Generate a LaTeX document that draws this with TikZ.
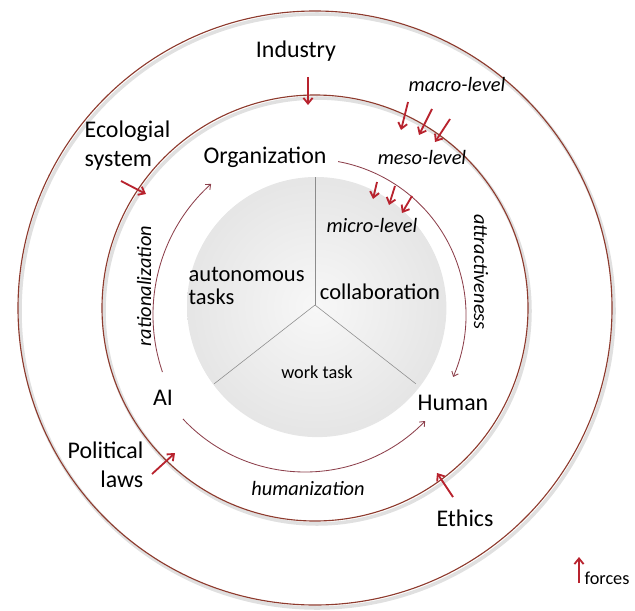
\documentclass[tikz,border=0pt]{standalone}
\usepackage{fontspec}
\setmainfont{Carlito}
\usetikzlibrary{arrows.meta,shadows}
\tikzset{
	>={Straight Barb[length=4pt,width=6.5pt]},
}
\definecolor{ringred}{HTML}{8E3B2E}
\definecolor{forcered}{HTML}{B8232E}
\definecolor{flowred}{HTML}{8C3F4B}

\begin{document}
\begin{tikzpicture}[x=0.025cm, y=0.025cm,
	label/.style = {font=\fontsize{17}{20.5}\selectfont, inner sep=1pt},
	task/.style = {font=\fontsize{16}{16.5}\selectfont, inner sep=1pt},
	level/.style = {font=\fontsize{14.5}{17}\selectfont\itshape, inner sep=1pt},
	ring/.style = {draw=ringred, line width=0.8pt},
	ringshadow/.style = {draw=black!12, line width=2.5pt},
	spoke/.style = {draw=black!45, line width=0.4pt},
	force/.style = {draw=forcered, line width=1.3pt, ->},
	flow/.style = {draw=flowred, line width=0.6pt, -{Straight Barb[length=3pt,width=5pt]}}]
\useasboundingbox (0,0) rectangle (635,-610);
\coordinate (ctr) at (315,-308);
\coordinate (hub) at (315,-305);
% rings
\draw[ringshadow] ([shift={(2,-3)}]ctr) circle[radius=297];
\draw[ring] (ctr) circle[radius=297];
\draw[ringshadow] ([shift={(2,-3)}]ctr) circle[radius=213];
\draw[ring] (ctr) circle[radius=213];
% work task disc
\path[drop shadow={opacity=0.2, shadow xshift=1pt, shadow yshift=-1.5pt},
	inner color=gray!6, outer color=gray!20] (316,-306) circle[radius=129];
\draw[spoke] (hub) -- ++(90:128);
\draw[spoke] (hub) -- ++(218:128);
\draw[spoke] (hub) -- ++(322:128);

% labels
\node[label] (ind) at (296,-51) {Industry};
\node[label] (org) at (265,-157) {Organization};
\node[label] (ai) at (163,-398) {AI};
\node[label] (hum) at (453,-403) {Human};
\node[label] (eth) at (465,-518) {Ethics};
\node[label, align=left, anchor=west] (eco) at (83,-146) {Ecologial\\system};
\node[label, align=right, anchor=east] (pol) at (145,-465) {Political\\laws};
\node[level] (macro) at (457,-84) {macro-level};
\node[level] (meso) at (422,-157) {meso-level};
\node[level] (micro) at (372,-225) {micro-level};
\node[level] (hmz) at (308,-488) {humanization};
\node[level, rotate=90] (rat) at (144,-286) {rationalization};
\node[level, rotate=-90] (att) at (481,-272) {attractiveness};
\node[task, align=left, anchor=west] (auto) at (187,-286) {autonomous\\tasks};
\node[task] (coll) at (380,-292) {collaboration};
\node[font=\fontsize{13}{15}\selectfont, inner sep=1pt] (work) at (317,-372) {work task};
\node[font=\fontsize{13}{15}\selectfont, inner sep=1pt] (forces) at (607,-578) {forces};

% flows between the actors
\coordinate (attctr) at (310,-315);
\coordinate (humctr) at (305,-305);
\coordinate (ratctr) at (330,-315);
\coordinate (attbeg) at ([shift={(79.6:156)}]attctr);
\coordinate (humbeg) at ([shift={(223:167)}]humctr);
\coordinate (ratbeg) at ([shift={(198.8:177)}]ratctr);
\draw[flow] (attbeg) arc[start angle=79.6, end angle=-23.4, radius=156];
\draw[flow] (humbeg) arc[start angle=223, end angle=316, radius=167];
\draw[flow] (ratbeg) arc[start angle=198.8, end angle=132.2, radius=177];

% forces
\coordinate (indA) at (308,-77);
\coordinate (indB) at (308,-105);
\draw[force] (indA) -- (indB);
\coordinate (ecoA) at (121,-181);
\coordinate (ecoB) at (146,-194);
\draw[force] (ecoA) -- (ecoB);
\coordinate (polA) at (152,-474);
\coordinate (polB) at (175,-453);
\draw[force] (polA) -- (polB);
\coordinate (ethA) at (453,-497);
\coordinate (ethB) at (437,-473);
\draw[force] (ethA) -- (ethB);
\foreach \i/\xa/\ya/\xb/\yb in {1/408/102/401/130, 2/432/109/419/135, 3/450/119/435/142}{
	\coordinate (macA\i) at (\xa,-\ya);
	\coordinate (macB\i) at (\xb,-\yb);
	\draw[force] (macA\i) -- (macB\i);
}
\foreach \i/\xa/\ya/\xb/\yb in {1/377/182/373/199, 2/395/186/389/205, 3/412/196/402/213}{
	\coordinate (micA\i) at (\xa,-\ya);
	\coordinate (micB\i) at (\xb,-\yb);
	\draw[force] (micA\i) -- (micB\i);
}
\coordinate (legA) at (579,-583);
\coordinate (legB) at (579,-557);
\draw[force] (legA) -- (legB);
\end{tikzpicture}
\end{document}
